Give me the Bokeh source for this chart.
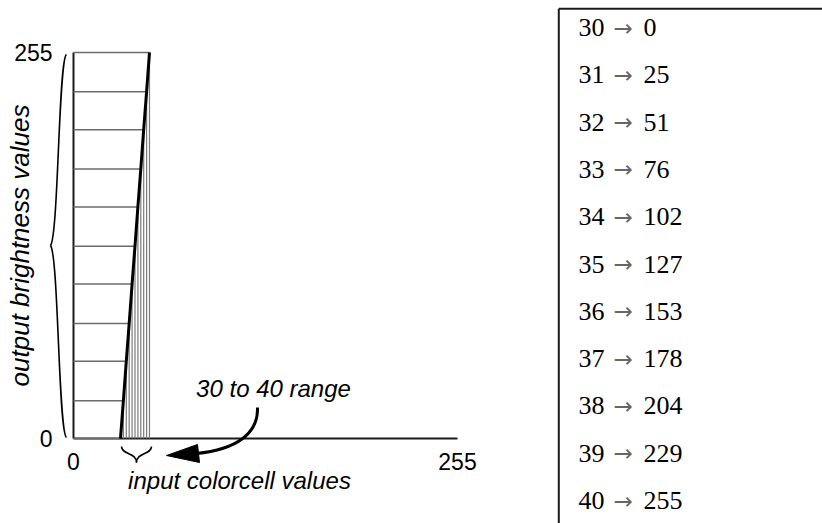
import math
from bokeh.plotting import figure
from bokeh.models import Range1d, FixedTicker
from bokeh.layouts import row
from bokeh.core.properties import value
from bokeh.embed import file_html
from bokeh.resources import INLINE

# ---------------- data ----------------
inputs = [30, 31, 32, 33, 34, 35, 36, 37, 38, 39, 40]
outputs = [0, 25, 51, 76, 102, 127, 153, 178, 204, 229, 255]
x_end_labels = ["0", "255"]
y_ticks = [0, 255]
x_title = "input colorcell values"
y_title = "output brightness values"
range_note = "30 to 40 range"
arrow_sym = "\u2192"

# ---------------- layout geometry (pixels) ----------------
W1, W2, H = 556, 266, 523
FL, FT, FW, FH = 73, 52, 384, 386          # frame of the left figure
X_START, X_END = 13.8, 146.2                 # schematic (not to scale) input axis
Y_START, Y_END = 0, 255

ppx = FW / (X_END - X_START)
ppy = FH / (Y_END - Y_START)


def fx(px):   # pixel -> data x (left figure)
    return X_START + (px - FL) / ppx


def fy(py):   # pixel -> data y (left figure)
    return Y_START + (FT + FH - py) / ppy


SANS = value("Liberation Sans")
SERIF = value("Liberation Serif")

p = figure(width=W1, height=H, x_range=Range1d(X_START, X_END),
           y_range=Range1d(Y_START, Y_END), toolbar_location=None,
           output_backend="svg", min_border_left=FL, min_border_top=FT,
           min_border_right=W1 - FL - FW, min_border_bottom=H - FT - FH)
p.grid.visible = False
p.outline_line_color = None
p.background_fill_color = "white"
p.border_fill_color = "white"

for ax in (p.xaxis[0], p.yaxis[0]):
    ax.axis_line_color = "#1a1a1a"
    ax.axis_line_width = 2
    ax.major_tick_line_color = None
    ax.minor_tick_line_color = None
    ax.major_label_text_font = "Liberation Sans"
    ax.major_label_text_font_size = "23px"
    ax.major_label_text_color = "black"

p.xaxis.ticker = FixedTicker(ticks=[X_START, X_END])
p.xaxis.major_label_overrides = {X_START: x_end_labels[0], X_END: x_end_labels[1]}
p.xaxis.major_label_standoff = 8
p.yaxis.ticker = FixedTicker(ticks=y_ticks)
p.yaxis.major_label_standoff = 15

n = len(inputs)
# horizontal lines: from the output axis to the ramp
p.segment(x0=[X_START] * n, y0=outputs, x1=inputs, y1=outputs,
          line_color="#6b6b6b", line_width=1.5, level="overlay")
# vertical lines: from the input axis up to the ramp
p.segment(x0=inputs, y0=[0] * n, x1=inputs, y1=outputs,
          line_color="#7a7a7a", line_width=1.2, level="overlay")
# the ramp
p.line(x=inputs, y=outputs, line_color="black", line_width=3, level="overlay")

# brace along the output axis
p.bezier(x0=[fx(66), fx(50)], y0=[fy(54), fy(245)],
         x1=[fx(50), fx(66)], y1=[fy(245), fy(437)],
         cx0=[fx(58), fx(58)], cy0=[fy(58), fy(255)],
         cx1=[fx(58), fx(58)], cy1=[fy(235), fy(433)],
         line_color="black", line_width=1.6, level="overlay")
# brace under the 30..40 inputs
p.bezier(x0=[fx(121), fx(136)], y0=[fy(446), fy(462)],
         x1=[fx(136), fx(151)], y1=[fy(462), fy(446)],
         cx0=[fx(121), fx(136)], cy0=[fy(454), fy(452)],
         cx1=[fx(136), fx(151)], cy1=[fy(452), fy(454)],
         line_color="black", line_width=1.6, level="overlay")
# curved pointer
p.bezier(x0=[fx(257)], y0=[fy(407)], x1=[fx(196)], y1=[fy(453)],
         cx0=[fx(258)], cy0=[fy(433)], cx1=[fx(236)], cy1=[fy(449)],
         line_color="black", line_width=3, level="overlay")
p.patch(x=[fx(166), fx(197), fx(199)], y=[fy(455), fy(444), fy(462)],
        fill_color="black", line_color="black", level="overlay")

# texts
p.text(x=[fx(273)], y=[fy(388)], text=[range_note], text_font=SANS,
       text_font_style="italic", text_font_size="24px", text_align="center",
       text_baseline="middle", text_color="black", level="overlay")
p.text(x=[fx(239)], y=[fy(480)], text=[x_title], text_font=SANS,
       text_font_style="italic", text_font_size="24px", text_align="center",
       text_baseline="middle", text_color="black", level="overlay")
p.text(x=[fx(19)], y=[fy(245)], text=[y_title], text_font=SANS,
       text_font_style="italic", text_font_size="26px", text_align="center",
       text_baseline="middle", angle=math.pi / 2, text_color="black",
       level="overlay")

# ---------------- right: mapping table ----------------
# (the row layout aligns plot frames, so this figure shares the left frame's
#  vertical extent; everything is drawn at overlay level so nothing is clipped)
ROW0, PITCH = 27, 47.3


def fk(py):   # pixel -> row coordinate (right figure)
    return (py - ROW0) / PITCH


q = figure(width=W2, height=H, x_range=Range1d(0, W2),
           y_range=Range1d(fk(FT + FH), fk(FT)), toolbar_location=None,
           output_backend="svg", min_border_left=0, min_border_right=0,
           min_border_top=FT, min_border_bottom=H - FT - FH,
           x_axis_type=None, y_axis_type=None)
q.outline_line_color = None
q.background_fill_color = "white"
q.border_fill_color = "white"
q.grid.visible = False

rows_k = list(range(n))
q.text(x=[22] * n, y=rows_k, text=[str(v) for v in inputs], text_font=SERIF,
       text_font_size="26px", text_align="left", text_baseline="middle",
       text_color="black", level="overlay")
q.text(x=[57] * n, y=rows_k, text=[arrow_sym] * n, text_font=value("DejaVu Sans"),
       text_font_size="23px", text_align="left", text_baseline="middle",
       text_color="#666666", level="overlay")
q.text(x=[87] * n, y=rows_k, text=[str(v) for v in outputs], text_font=SERIF,
       text_font_size="26px", text_align="left", text_baseline="middle",
       text_color="black", level="overlay")
# table frame (top and left edges; the rest runs off the page)
q.segment(x0=[2.3, 2.3], y0=[fk(8.3), fk(8.3)], x1=[W2, 2.3], y1=[fk(8.3), fk(H)],
          line_color="#1a1a1a", line_width=2, level="overlay")

layout = row(p, q)
open("out.html", "w").write(file_html(layout, INLINE))
